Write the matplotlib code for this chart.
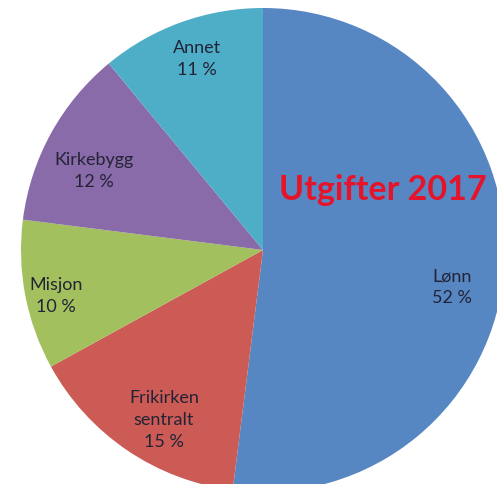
import matplotlib.pyplot as plt

# Data
kategorier = ['Lønn', 'Frikirken\nsentralt', 'Misjon', 'Kirkebygg', 'Annet']
prosent = [52, 15, 10, 12, 11]
farger = ['#5687C3', '#CC5B56', '#A2C05D', '#8A6BAA', '#4EAEC8']

# Label positions (pixel coords, y from top)
label_pos = [(452, 287), (164, 420), (56, 296), (94, 171), (197, 59)]

W, H = 497, 485
plt.rcParams['font.family'] = ['Lato', 'DejaVu Sans']

fig = plt.figure(figsize=(W / 100, H / 100), dpi=100)
ax = fig.add_axes([0, 0, 1, 1])

ax.pie(prosent, colors=farger, startangle=90, counterclock=False,
       center=(263, H - 251), radius=242, frame=True,
       wedgeprops=dict(linewidth=0))
ax.set_xlim(0, W)
ax.set_ylim(0, H)
ax.set_aspect('equal')
ax.axis('off')

for navn, p, (x, y) in zip(kategorier, prosent, label_pos):
    ax.text(x, H - y, f"{navn}\n{p} %", ha='center', va='center',
            fontsize=13, color='#232336', linespacing=1.45)

ax.text(383, H - 190, 'Utgifter 2017', ha='center', va='center',
        fontsize=24.5, fontweight='bold', color='#E5142B')

fig.savefig('out.png', dpi=100)
